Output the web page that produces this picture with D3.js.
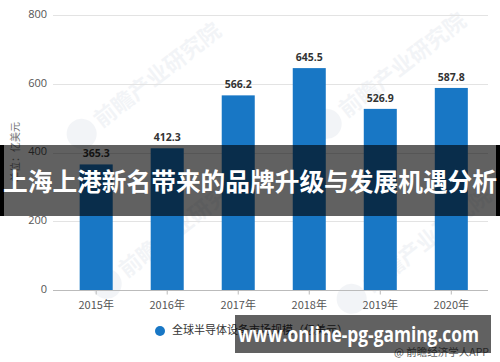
<!DOCTYPE html>
<html>
<head>
<meta charset="utf-8">
<script src="https://cdn.jsdelivr.net/npm/d3@7"></script>
<style>
  body { margin: 0; background: #fff; }
  svg { display: block; }
</style>
</head>
<body>
<script>
var years = ["2015年", "2016年", "2017年", "2018年", "2019年", "2020年"];
var marketSize = [365.3, 412.3, 566.2, 645.5, 526.9, 587.8];
var yTicks = [0, 200, 400, 600, 800];
var seriesName = "全球半导体设备市场规模（亿美元）";
var yTitle = "单位：亿美元";
var headline = "上海上港新名带来的品牌升级与发展机遇分析";
var siteText = "www.online-pg-gaming.com";
var sourceText = "@ 前瞻经济学人APP";

var W = 500, H = 362;
var cjk = "'Noto Sans CJK SC', 'Noto Sans', sans-serif";
var num = "'Open Sans', 'Noto Sans', sans-serif";

var svg = d3.select("body").append("svg").attr("width", W).attr("height", H);

var x = d3.scaleBand().domain(years).range([60.5, 487]).paddingInner(0.535).paddingOuter(0.27);
var y = d3.scaleLinear().domain([0, 800]).range([290, 15]);

// faint watermarks
var marks = [[125, 100], [370, 90], [150, 250], [395, 265]];
marks.forEach(function(p) {
  var g = svg.append("g").attr("transform", "translate(" + p[0] + "," + p[1] + ") rotate(-38)").attr("opacity", 0.05);
  g.append("circle").attr("cx", -55).attr("cy", 0).attr("r", 15).attr("fill", "#1a3d6d");
  g.append("text").attr("x", -36).attr("y", 8).attr("font-family", cjk).attr("font-weight", "bold")
    .attr("font-size", 22).attr("fill", "#1a3d6d").text("前瞻产业研究院");
});

// grid
svg.append("g").selectAll("line").data(yTicks.slice(1)).enter().append("line")
  .attr("x1", 53).attr("x2", 488)
  .attr("y1", function(d) { return Math.round(y(d)) + 0.5; })
  .attr("y2", function(d) { return Math.round(y(d)) + 0.5; })
  .attr("stroke", "#e3e3e3").attr("stroke-width", 1);

// y labels
svg.append("g").selectAll("text").data(yTicks).enter().append("text")
  .attr("x", 47).attr("y", function(d) { return y(d); })
  .attr("text-anchor", "end").attr("dominant-baseline", "middle")
  .attr("font-family", num).attr("font-size", 11).attr("fill", "#555")
  .text(function(d) { return d; });

// y title
svg.append("text")
  .attr("transform", "translate(16,152) rotate(-90)")
  .attr("text-anchor", "middle").attr("dominant-baseline", "middle")
  .attr("font-family", cjk).attr("font-size", 10).attr("fill", "#777")
  .text(yTitle);

// bars
svg.append("g").selectAll("rect").data(marketSize).enter().append("rect")
  .attr("x", function(d, i) { return x(years[i]); })
  .attr("width", x.bandwidth())
  .attr("y", function(d) { return y(d); })
  .attr("height", function(d) { return y(0) - y(d); })
  .attr("fill", "#1877c5");

// value labels
svg.append("g").selectAll("text").data(marketSize).enter().append("text")
  .attr("x", function(d, i) { return x(years[i]) + x.bandwidth() / 2; })
  .attr("y", function(d) { return y(d) - 7; })
  .attr("text-anchor", "middle")
  .attr("font-family", num).attr("font-weight", "bold").attr("font-size", 10.5).attr("fill", "#333")
  .text(function(d) { return d.toFixed(1); });

// x axis
var xAxis = svg.append("g").attr("transform", "translate(0," + (Math.round(y(0)) + 0.5) + ")")
  .call(d3.axisBottom(x).tickSize(4).tickSizeOuter(0));
xAxis.select(".domain").attr("d", "M53,0H488").attr("stroke", "#bbb");
xAxis.selectAll(".tick line").attr("stroke", "#bbb");
xAxis.selectAll(".tick text").attr("dy", "1.05em")
  .attr("font-family", cjk).attr("font-size", 11).attr("fill", "#555");

// legend
svg.append("circle").attr("cx", 160).attr("cy", 331).attr("r", 5).attr("fill", "#1877c5");
svg.append("text").attr("x", 172).attr("y", 331).attr("dominant-baseline", "middle")
  .attr("font-family", cjk).attr("font-size", 11).attr("fill", "#333").text(seriesName);

// source
svg.append("text").attr("x", 489).attr("y", 353).attr("text-anchor", "end").attr("dominant-baseline", "middle")
  .attr("font-family", cjk).attr("font-size", 10.5).attr("fill", "#666").text(sourceText);

// headline band
svg.append("rect").attr("x", 0).attr("y", 145).attr("width", W).attr("height", 71)
  .attr("fill", "#000").attr("opacity", 0.62);
svg.append("rect").attr("x", 0).attr("y", 145).attr("width", 4).attr("height", 71).attr("fill", "#000");
svg.append("rect").attr("x", 496).attr("y", 145).attr("width", 4).attr("height", 71).attr("fill", "#000");
svg.append("text").attr("x", 250).attr("y", 180).attr("text-anchor", "middle").attr("dominant-baseline", "central")
  .attr("font-family", cjk).attr("font-weight", "bold").attr("font-size", 24.5).attr("fill", "#fff")
  .attr("textLength", 494).attr("lengthAdjust", "spacingAndGlyphs")
  .text(headline);

// site band
svg.append("rect").attr("x", 235).attr("y", 315).attr("width", 256).attr("height", 38)
  .attr("fill", "#000").attr("opacity", 0.62);
svg.append("text").attr("x", 238).attr("y", 334).attr("dominant-baseline", "central")
  .attr("font-family", "'Open Sans', 'DejaVu Sans', sans-serif").attr("font-weight", "bold").attr("font-size", 21).attr("fill", "#fff")
  .attr("textLength", 241).attr("lengthAdjust", "spacingAndGlyphs")
  .text(siteText);
</script>
</body>
</html>
